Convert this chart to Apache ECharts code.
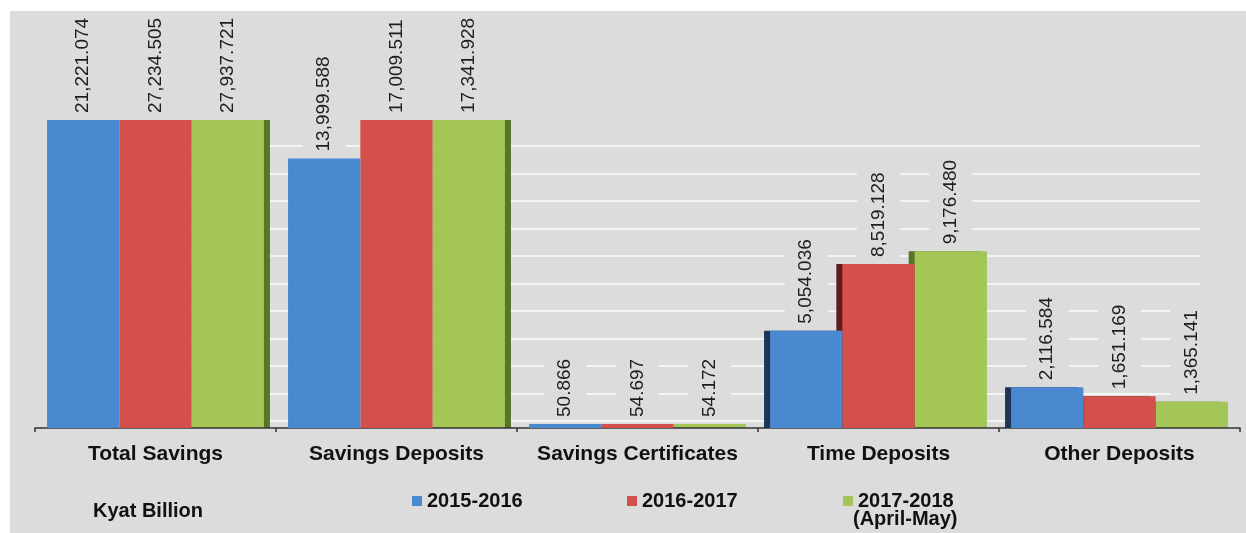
<!DOCTYPE html>
<html>
<head>
<meta charset="utf-8">
<script src="https://cdn.jsdelivr.net/npm/echarts@6/dist/echarts.min.js"></script>
<style>
  html, body { margin: 0; padding: 0; background: #ffffff; width: 1246px; height: 533px; overflow: hidden; }
  #chart { position: absolute; left: 10px; top: 11px; width: 1236px; height: 522px; background: #dcdcdc; }
</style>
</head>
<body>
<div id="chart"></div>
<script>
// Savings by type, Kyat Billion
const categories = ['Total Savings', 'Savings Deposits', 'Savings Certificates', 'Time Deposits', 'Other Deposits'];
const seriesNames = ['2015-2016', '2016-2017', '2017-2018 (April-May)'];
const legendLabels = ['2015-2016', '2016-2017', '2017-2018'];
const values2015 = [21221.074, 13999.588, 50.866, 5054.036, 2116.584];
const values2016 = [27234.505, 17009.511, 54.697, 8519.128, 1651.169];
const values2017 = [27937.721, 17341.928, 54.172, 9176.480, 1365.141];
const unitLabel = 'Kyat Billion';
const periodNote = '(April-May)';

const FONT = '"Liberation Sans", Arial, sans-serif';
const colors = ['#4a88d0', '#d4504c', '#a3c657'];
const sideColors = ['#1d3557', '#5e1c1a', '#56752a'];

function fmt(v) {
  return v.toLocaleString('en-US', { minimumFractionDigits: 3, maximumFractionDigits: 3 });
}

// side face of each bar: +1 right side, -1 left side, 0 none
const sides = [
  [0, 0, 0, -1, -1],
  [0, 0, 0, -1, -1],
  [1, 1, 0, -1, -1]
];

function buildData(values, s) {
  return values.map((v, i) => {
    const side = sides[s][i];
    const item = { value: v };
    if (side !== 0) {
      item.itemStyle = {
        shadowColor: sideColors[s],
        shadowOffsetX: side * 6,
        shadowOffsetY: 0,
        shadowBlur: 0
      };
    }
    return item;
  });
}

const allValues = [values2015, values2016, values2017];

const chart = echarts.init(document.getElementById('chart'), null, { renderer: 'canvas' });

const series = allValues.map((vals, s) => ({
  name: seriesNames[s],
  type: 'bar',
  xAxisIndex: 0,
  yAxisIndex: 0,
  z: 6 - s,
  barGap: '0%',
  barCategoryGap: '10%',
  barMinHeight: 4,
  clip: true,
  itemStyle: { color: colors[s] },
  label: {
    show: true,
    position: 'top',
    distance: 5,
    rotate: 90,
    align: 'left',
    verticalAlign: 'middle',
    fontFamily: FONT,
    fontSize: 19,
    color: '#1e1e1e',
    backgroundColor: '#dcdcdc',
    padding: [12, 2, 12, 2],
    formatter: p => fmt(p.value)
  },
  data: buildData(vals, s)
}));

// back-wall grid lines
series.push({
  type: 'line',
  xAxisIndex: 1,
  yAxisIndex: 1,
  data: [],
  silent: true
});

const legends = seriesNames.map((name, s) => ({
  data: [name],
  left: [397, 612, 828][s],
  top: 475,
  orient: 'horizontal',
  icon: 'rect',
  itemWidth: 10,
  itemHeight: 10,
  itemGap: 5,
  selectedMode: false,
  formatter: () => legendLabels[s],
  textStyle: { fontFamily: FONT, fontSize: 20, fontWeight: 'bold', color: '#111111' }
}));

chart.setOption({
  animation: false,
  color: colors,
  textStyle: { fontFamily: FONT },
  grid: [
    { left: 25, right: 6, top: 109, bottom: 105, containLabel: false },
    { left: 50, right: 46, top: 135, bottom: 112, containLabel: false }
  ],
  legend: legends,
  xAxis: [
    {
      type: 'category',
      gridIndex: 0,
      data: categories,
      offset: 4,
      axisLine: { show: true, lineStyle: { color: '#333333', width: 1.5 } },
      axisTick: { show: true, alignWithLabel: false, length: 4, lineStyle: { color: '#333333', width: 1.5 } },
      axisLabel: { margin: 12, fontFamily: FONT, fontSize: 21, fontWeight: 'bold', color: '#111111', interval: 0 },
      splitLine: { show: false },
      z: 5
    },
    {
      type: 'value',
      gridIndex: 1,
      show: false,
      min: 0,
      max: 1
    }
  ],
  yAxis: [
    {
      type: 'value',
      gridIndex: 0,
      min: 0,
      max: 16000,
      show: false,
      splitLine: { show: false }
    },
    {
      type: 'value',
      gridIndex: 1,
      min: 0,
      max: 10,
      interval: 1,
      axisLine: { show: false },
      axisTick: { show: false },
      axisLabel: { show: false },
      splitLine: { show: true, lineStyle: { color: '#f4f4f4', width: 2 } },
      z: 0
    }
  ],
  graphic: [
    {
      type: 'text',
      left: 83,
      top: 490,
      style: { text: unitLabel, fontFamily: FONT, fontSize: 20, fontWeight: 'bold', fill: '#111111' }
    },
    {
      type: 'text',
      left: 843,
      top: 498,
      style: { text: periodNote, fontFamily: FONT, fontSize: 20, fontWeight: 'bold', fill: '#111111' }
    }
  ],
  series: series
});
</script>
</body>
</html>
